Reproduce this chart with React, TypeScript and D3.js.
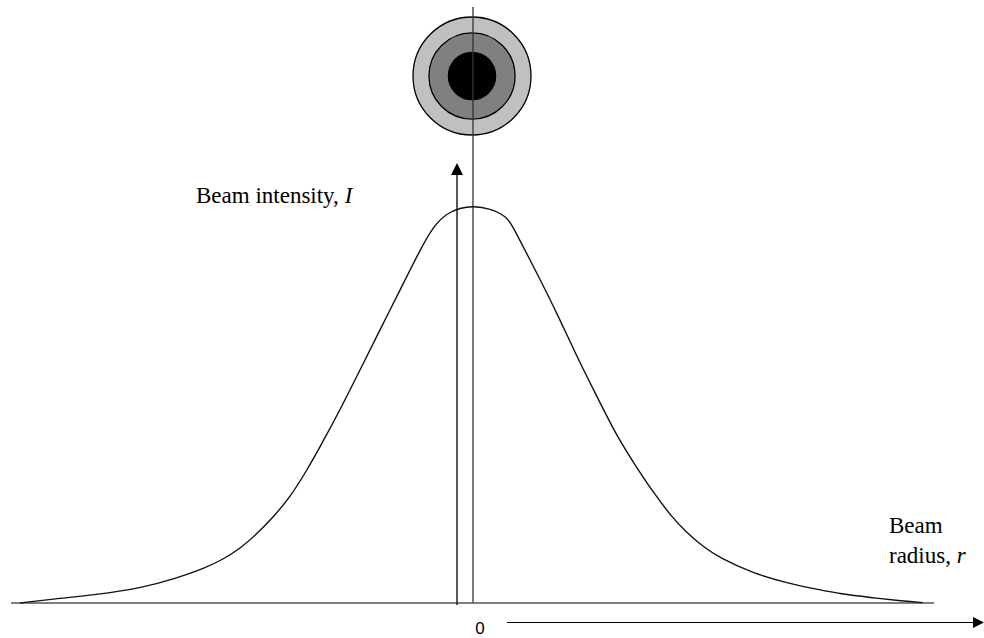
import React from "react";
import * as d3 from "d3";

// Beam intensity profile (radius in arbitrary units, intensity normalised to peak)
const radius = [
  -4.53, -4.23, -3.73, -3.33, -2.97, -2.68, -2.5, -2.33, -2.16, -2.0, -1.83, -1.66, -1.53, -1.33,
  -1.13, -0.93, -0.73, -0.53, -0.4, -0.26, -0.13, 0.0, 0.17, 0.34, 0.4, 0.64, 0.84, 1.04, 1.24,
  1.44, 1.64, 1.8, 1.97, 2.14, 2.3, 2.47, 2.8, 3.14, 3.47, 3.67, 3.97, 4.3, 4.5,
];
const intensity = [
  0.0, 0.009, 0.022, 0.037, 0.062, 0.088, 0.11, 0.137, 0.174, 0.216, 0.266, 0.335, 0.393, 0.486,
  0.587, 0.688, 0.788, 0.889, 0.948, 0.982, 0.995, 1.0, 0.994, 0.973, 0.948, 0.83, 0.73, 0.62, 0.52,
  0.419, 0.34, 0.28, 0.222, 0.176, 0.142, 0.113, 0.075, 0.05, 0.033, 0.023, 0.014, 0.005, 0.001,
];
// beam cross-section rings (relative radius) and fills
const ringRadius = [1.0, 0.73, 0.4];
const ringFill = ["#c0c0c0", "#808080", "#000000"];

const yAxisLabel = "Beam intensity, ";
const yAxisSymbol = "I";
const xAxisLabel1 = "Beam";
const xAxisLabel2 = "radius, ";
const xAxisSymbol = "r";
const originLabel = "0";

const W = 984;
const H = 638;

export default function App() {
  const x = d3.scaleLinear().domain([-1, 1]).range([373, 573]);
  const y = d3.scaleLinear().domain([0, 1]).range([603, 206]);
  const pts: [number, number][] = radius.map((r, i) => [r, intensity[i]]);
  const line = d3
    .line<[number, number]>()
    .x((d) => x(d[0]))
    .y((d) => y(d[1]))
    .curve(d3.curveBasis);

  const cx = x(0);
  const ringScale = d3.scaleLinear().domain([0, 1]).range([0, 59]);
  const ringCy = 76;
  const axisX = 457;
  const serif = "'Liberation Serif', 'Times New Roman', serif";

  return (
    <svg
      width={W}
      height={H}
      style={{ position: "absolute", left: 0, top: 0, background: "#fff" }}
    >
      {/* beam cross-section */}
      {ringRadius.map((rr, i) => (
        <circle
          key={i}
          cx={cx - 1}
          cy={ringCy}
          r={ringScale(rr)}
          fill={ringFill[i]}
          stroke="#000"
          strokeWidth={1.3}
        />
      ))}
      {/* vertical centre line */}
      <line x1={cx} x2={cx} y1={7} y2={y(0)} stroke="#333" strokeWidth={1.3} />
      {/* baseline */}
      <line x1={11} x2={934} y1={y(0)} y2={y(0)} stroke="#555" strokeWidth={1.5} />
      {/* intensity axis arrow */}
      <line x1={axisX} x2={axisX} y1={y(0) + 2} y2={174} stroke="#222" strokeWidth={1.5} />
      <path d={`M${axisX - 6},175 L${axisX},163 L${axisX + 6},175 Z`} fill="#000" />
      {/* curve */}
      <path d={line(pts) || ""} fill="none" stroke="#111" strokeWidth={1.4} />
      {/* radius arrow */}
      <line x1={507} x2={974} y1={622.5} y2={622.5} stroke="#000" strokeWidth={1.2} />
      <path d={`M973,617 L984,622.5 L973,628 Z`} fill="#000" />

      <text x={196} y={203} fontFamily={serif} fontSize={23} fill="#000">
        {yAxisLabel}
        <tspan fontStyle="italic">{yAxisSymbol}</tspan>
      </text>
      <text x={889} y={533} fontFamily={serif} fontSize={23} fill="#000">
        {xAxisLabel1}
      </text>
      <text x={889} y={563} fontFamily={serif} fontSize={23} fill="#000">
        {xAxisLabel2}
        <tspan fontStyle="italic">{xAxisSymbol}</tspan>
      </text>
      <text
        x={480}
        y={634}
        textAnchor="middle"
        fontFamily="'Liberation Sans', Arial, sans-serif"
        fontSize={17}
        fill="#000"
      >
        {originLabel}
      </text>
    </svg>
  );
}
